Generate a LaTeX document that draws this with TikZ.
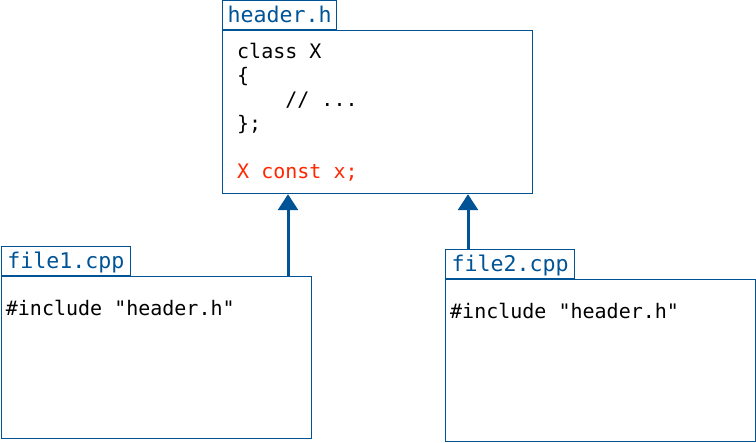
\documentclass[tikz,border=0pt]{standalone}
\usepackage{fontspec}
\setmonofont{DejaVu Sans Mono}
\usepackage{tikz}
\usetikzlibrary{arrows.meta}

\definecolor{tabblue}{RGB}{0,84,150}
\definecolor{codered}{RGB}{255,38,0}

\begin{document}
\begin{tikzpicture}[x=1pt, y=-1pt,
        filebox/.style={draw=tabblue, line width=1.2pt, anchor=north west, inner sep=0pt},
        filetab/.style={draw=tabblue, line width=1.2pt, anchor=south west, inner sep=0pt, minimum height=29pt,
            text=tabblue, text height=18pt, text depth=3pt, font=\ttfamily\fontsize{21.6}{24}\selectfont},
        code/.style={anchor=north west, inner sep=0pt, align=left, font=\ttfamily\fontsize{20}{24}\selectfont},
        incl/.style={-{Triangle[width=20pt,length=16pt]}, draw=tabblue, line width=3pt}]
    \useasboundingbox (0,0) rectangle (756,443);
    % header file
    \node[filebox, minimum width=310pt, minimum height=163pt] (hdrbox) at (222,30) {};
    \node[filetab, minimum width=114pt] (hdrtab) at (hdrbox.north west) {header.h};
    \node[code, xshift=15pt, yshift=-11.2pt] (hdrcode) at (hdrbox.north west)
        {\strut class X\\ \{\\ \phantom{xxxx}// ...\\ \};\\ \\ \textcolor{codered}{X const x;}};
    % the two sources
    \node[filebox, minimum width=310pt, minimum height=162pt] (fileonebox) at (0.7,276) {};
    \node[filetab, minimum width=129pt] (fileonetab) at (fileonebox.north west) {file1.cpp};
    \node[code, xshift=5pt, yshift=-22.2pt] (fileonecode) at (fileonebox.north west) {\strut\#include "header.h"};
    \node[filebox, minimum width=310pt, minimum height=162pt] (filetwobox) at (445,279) {};
    \node[filetab, minimum width=129pt] (filetwotab) at (filetwobox.north west) {file2.cpp};
    \node[code, xshift=5pt, yshift=-22.2pt] (filetwocode) at (filetwobox.north west) {\strut\#include "header.h"};
    % includes
    \coordinate (lefttip) at ([xshift=66pt]hdrbox.south west);
    \coordinate (righttip) at ([xshift=246pt]hdrbox.south west);
    \draw[incl] (lefttip |- fileonebox.north) -- (lefttip);
    \draw[incl] (righttip |- filetwotab.north) -- (righttip);
\end{tikzpicture}
\end{document}
